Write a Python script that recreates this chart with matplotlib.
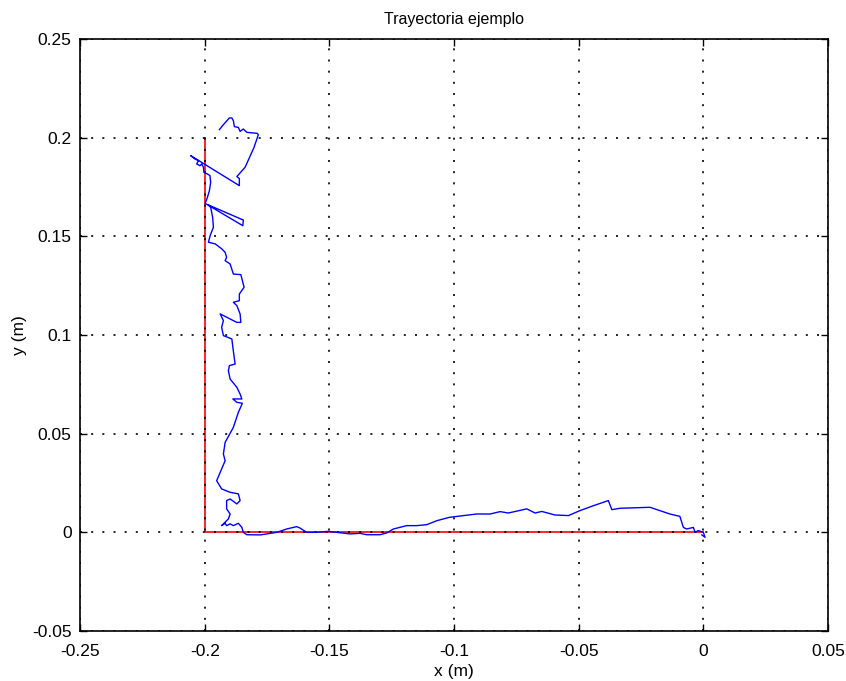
import matplotlib
matplotlib.use("Agg")
import matplotlib.pyplot as plt

plt.rcParams['font.family'] = ['Liberation Sans', 'DejaVu Sans']

title = "Trayectoria ejemplo"
xlabel = "x (m)"
ylabel = "y (m)"

# reference path (red)
ref_x = [-0.2, -0.2, 0.0]
ref_y = [0.2, 0.0, 0.0]

# measured trajectory (blue)
traj_x = [-0.1941, -0.1925, -0.1901, -0.1891, -0.1885, -0.1881, -0.1865, -0.1858, -0.1845, -0.1831,
          -0.1789, -0.1785, -0.1802, -0.1838, -0.1871, -0.1861, -0.1861, -0.2056, -0.2039, -0.2025,
          -0.2032, -0.2019, -0.2012, -0.2005, -0.2003, -0.1989, -0.1979, -0.1976, -0.1981, -0.1989,
          -0.1998, -0.1847, -0.1845, -0.1855, -0.1985, -0.1976, -0.1968, -0.1965, -0.1978, -0.1985,
          -0.1958, -0.1931, -0.1918, -0.1912, -0.1918, -0.1898, -0.1885, -0.1855, -0.1842, -0.1861,
          -0.1861, -0.1885, -0.1871, -0.1858, -0.1855, -0.1871, -0.1938, -0.1925, -0.1932, -0.1925,
          -0.1891, -0.1887, -0.1878, -0.1901, -0.1905, -0.1898, -0.1871, -0.1858, -0.1851, -0.1887,
          -0.1871, -0.1849, -0.1865, -0.1885, -0.1918, -0.1925, -0.1918, -0.1938, -0.1952, -0.1932,
          -0.1898, -0.1865, -0.1858, -0.1871, -0.1898, -0.1912, -0.1912, -0.1898, -0.1905, -0.1932,
          -0.1918, -0.1912, -0.1898, -0.1885, -0.1865, -0.1851, -0.1845, -0.1831, -0.1778, -0.1751,
          -0.1711, -0.1671, -0.1631, -0.1618, -0.1591, -0.1551, -0.1504, -0.1457, -0.1417, -0.1377,
          -0.1350, -0.1297, -0.1270, -0.1243, -0.1190, -0.1150, -0.1109, -0.1069, -0.1019, -0.0909,
          -0.0855, -0.0815, -0.0782, -0.0708, -0.0675, -0.0648, -0.0595, -0.0541, -0.0495, -0.0441,
          -0.0381, -0.0367, -0.0334, -0.0214, -0.0134, -0.0094, -0.0080, -0.0067, -0.0040, -0.0033,
          -0.0020, 0.0000, 0.0007, -0.0006]
traj_y = [0.2041, 0.2066, 0.2100, 0.2100, 0.2086, 0.2056, 0.2052, 0.2032, 0.2044, 0.2027,
          0.2022, 0.2015, 0.1951, 0.1850, 0.1803, 0.1793, 0.1757, 0.1909, 0.1892, 0.1884,
          0.1867, 0.1858, 0.1867, 0.1850, 0.1824, 0.1816, 0.1808, 0.1774, 0.1732, 0.1698,
          0.1667, 0.1554, 0.1583, 0.1588, 0.1659, 0.1647, 0.1596, 0.1546, 0.1504, 0.1470,
          0.1462, 0.1436, 0.1419, 0.1394, 0.1377, 0.1360, 0.1309, 0.1306, 0.1242, 0.1208,
          0.1174, 0.1166, 0.1149, 0.1107, 0.1064, 0.1064, 0.1107, 0.1073, 0.1039, 0.0997,
          0.0980, 0.0938, 0.0853, 0.0845, 0.0819, 0.0777, 0.0735, 0.0701, 0.0676, 0.0676,
          0.0659, 0.0654, 0.0608, 0.0532, 0.0456, 0.0397, 0.0363, 0.0304, 0.0262, 0.0220,
          0.0203, 0.0195, 0.0161, 0.0144, 0.0169, 0.0161, 0.0119, 0.0093, 0.0068, 0.0034,
          0.0046, 0.0034, 0.0043, 0.0034, 0.0046, 0.0025, 0.0000, -0.0012, -0.0013, -0.0008,
          0.0000, 0.0017, 0.0029, 0.0022, 0.0000, 0.0000, 0.0005, -0.0002, -0.0008, -0.0005,
          -0.0012, -0.0012, -0.0003, 0.0017, 0.0034, 0.0034, 0.0039, 0.0059, 0.0076, 0.0093,
          0.0093, 0.0105, 0.0098, 0.0119, 0.0098, 0.0106, 0.0088, 0.0085, 0.0110, 0.0135,
          0.0161, 0.0115, 0.0122, 0.0127, 0.0093, 0.0081, 0.0025, 0.0017, 0.0025, 0.0000,
          0.0009, 0.0000, -0.0025, -0.0013]

xticks = [-0.25, -0.2, -0.15, -0.1, -0.05, 0, 0.05]
xticklabels = ["-0.25", "-0.2", "-0.15", "-0.1", "-0.05", "0", "0.05"]
yticks = [-0.05, 0, 0.05, 0.1, 0.15, 0.2, 0.25]
yticklabels = ["-0.05", "0", "0.05", "0.1", "0.15", "0.2", "0.25"]

fig = plt.figure(figsize=(8.46, 6.81), dpi=100)
ax = fig.add_axes([0.0946, 0.0734, 0.8841, 0.8693])

ax.plot(traj_x, traj_y, color='#0000ff', linewidth=1.0, zorder=3)
ax.plot(ref_x, ref_y, color='#ff0000', linewidth=1.2, zorder=2)

ax.set_xlim(-0.25, 0.05)
ax.set_ylim(-0.05, 0.25)
ax.set_xticks(xticks)
ax.set_xticklabels(xticklabels)
ax.set_yticks(yticks)
ax.set_yticklabels(yticklabels)
ax.grid(True, color='black', linestyle=(0, (1.2, 5.5)), linewidth=1.2)
ax.set_axisbelow(False)
ax.tick_params(direction='in', length=5, width=1, top=True, right=True,
               labelsize=12.5)
ax.tick_params(axis='x', pad=9)
ax.tick_params(axis='y', pad=6)
for s in ax.spines.values():
    s.set_linewidth(1.2)

ax.set_title(title, fontsize=11.5, pad=11)
ax.set_xlabel(xlabel, fontsize=12.5, labelpad=4)
ax.set_ylabel(ylabel, fontsize=12.5, labelpad=4)

fig.savefig("out.png", dpi=100)
